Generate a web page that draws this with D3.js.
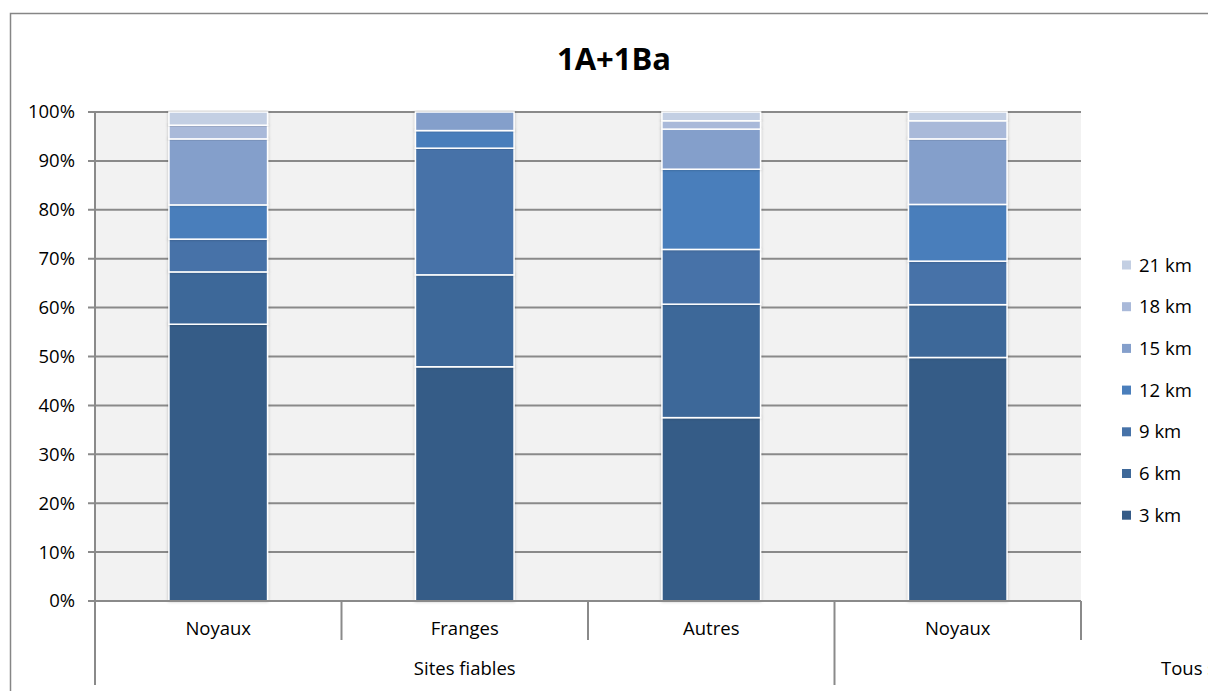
<!DOCTYPE html>
<html><head><meta charset="utf-8">
<script src="https://cdn.jsdelivr.net/npm/d3@7"></script>
<style>
html,body{margin:0;padding:0;background:#fff;overflow:hidden;}
svg{display:block;font-family:"Open Sans", Lato, sans-serif;}
</style></head>
<body>
<svg id="chart" width="1208" height="691"></svg>
<script>
const title = "1A+1Ba";
const categories = ["Noyaux", "Franges", "Autres", "Noyaux"];
const groups = ["Sites fiables", "Tous sites"];
const seriesNames = ["3 km", "6 km", "9 km", "12 km", "15 km", "18 km", "21 km"];
const s3km  = [56.6, 47.9, 37.5, 49.8];
const s6km  = [10.7, 18.8, 23.2, 10.8];
const s9km  = [6.7, 25.9, 11.2, 8.9];
const s12km = [7.0, 3.6, 16.4, 11.6];
const s15km = [13.5, 3.8, 8.2, 13.4];
const s18km = [2.8, 0, 1.7, 3.7];
const s21km = [2.7, 0, 1.8, 1.8];
const colors = ["#355b87", "#3e6899", "#4672a8", "#4a7ebb", "#849fcb", "#a9b9d9", "#c3cfe3"];
const yTicks = [0, 10, 20, 30, 40, 50, 60, 70, 80, 90, 100];

const seriesValues = [s3km, s6km, s9km, s12km, s15km, s18km, s21km];
const table = categories.map((c, i) => {
  const row = {idx: i, cat: c};
  seriesNames.forEach((s, k) => row[s] = seriesValues[k][i]);
  return row;
});

const FS = 18.5;
const svg = d3.select("#chart");
const plot = {left: 95, right: 1081, top: 112, bottom: 601};

const defs = svg.append("defs");
const f = defs.append("filter").attr("id", "sh").attr("x", "-10%").attr("y", "-10%").attr("width", "120%").attr("height", "120%");
f.append("feDropShadow").attr("dx", 0).attr("dy", 0).attr("stdDeviation", 1.5).attr("flood-color", "#000").attr("flood-opacity", 0.25);

// outer border
svg.append("rect").attr("x", 10.5).attr("y", 13.5).attr("width", 1300).attr("height", 800)
  .attr("fill", "#fff").attr("stroke", "#868686").attr("stroke-width", 1.5);

// plot background
svg.append("rect").attr("x", plot.left).attr("y", plot.top)
  .attr("width", plot.right - plot.left).attr("height", plot.bottom - plot.top).attr("fill", "#f2f2f2");

const x = d3.scaleBand().domain(d3.range(categories.length)).range([plot.left, plot.right])
  .paddingInner(0.6).paddingOuter(0.3);
const y = d3.scaleLinear().domain([0, 100]).range([plot.bottom, plot.top]);

// gridlines
svg.append("g").selectAll("line").data(yTicks).join("line")
  .attr("x1", plot.left - 7).attr("x2", plot.right)
  .attr("y1", d => y(d)).attr("y2", d => y(d))
  .attr("stroke", "#8a8a8a").attr("stroke-width", 2);

// y axis labels
const yAxis = d3.axisLeft(y).tickValues(yTicks).tickFormat(d => d + "%").tickSize(0).tickPadding(20);
const ya = svg.append("g").attr("transform", `translate(${plot.left},0)`).call(yAxis);
ya.select(".domain").remove();
ya.selectAll("text").attr("font-size", FS).attr("fill", "#000").attr("font-family", "'Open Sans', sans-serif");

// y axis line
svg.append("line").attr("x1", plot.left).attr("x2", plot.left).attr("y1", plot.top).attr("y2", 685)
  .attr("stroke", "#8a8a8a").attr("stroke-width", 2);

// stacked bars
const stack = d3.stack().keys(seriesNames)(table);
const bars = svg.append("g");
stack.forEach((layer, k) => {
  bars.append("g").attr("fill", colors[k]).selectAll("rect")
    .data(layer.filter(d => d[1] - d[0] > 0)).join("rect")
    .attr("x", d => x(d.data.idx))
    .attr("width", x.bandwidth())
    .attr("y", d => y(d[1]))
    .attr("height", d => y(d[0]) - y(d[1]))
    .attr("stroke", "#fff").attr("stroke-width", 1.5)
    .attr("filter", "url(#sh)");
});

// x axis line
svg.append("line").attr("x1", plot.left - 7).attr("x2", plot.right).attr("y1", plot.bottom).attr("y2", plot.bottom)
  .attr("stroke", "#8a8a8a").attr("stroke-width", 2);

// category dividers
const step = x.step();
const bounds = d3.range(categories.length + 1).map(i => plot.left + i * step);
const longIdx = [0, 3];
svg.append("g").selectAll("line").data(bounds).join("line")
  .attr("x1", d => d).attr("x2", d => d)
  .attr("y1", plot.bottom).attr("y2", (d, i) => longIdx.includes(i) ? 685 : 640)
  .attr("stroke", "#8a8a8a").attr("stroke-width", 2);

// category labels
svg.append("g").selectAll("text").data(categories).join("text")
  .attr("x", (d, i) => x(i) + x.bandwidth() / 2).attr("y", 635)
  .attr("text-anchor", "middle").attr("font-size", FS).attr("fill", "#000").text(d => d);

// group labels
svg.append("text").attr("x", (bounds[0] + bounds[3]) / 2).attr("y", 675)
  .attr("text-anchor", "middle").attr("font-size", FS).attr("fill", "#000").text(groups[0]);
svg.append("text").attr("x", 1161).attr("y", 675)
  .attr("text-anchor", "start").attr("font-size", FS).attr("fill", "#000").text(groups[1]);

// title
svg.append("text").attr("x", 614).attr("y", 70).attr("text-anchor", "middle")
  .attr("font-size", 31).attr("font-weight", "bold").attr("fill", "#000").text(title);

// legend
const legendOrder = seriesNames.map((s, k) => ({s, k})).reverse();
const lg = svg.append("g").selectAll("g").data(legendOrder).join("g")
  .attr("transform", (d, i) => `translate(1122, ${265 + i * 41.7})`);
lg.append("rect").attr("x", 0).attr("y", -4.5).attr("width", 9).attr("height", 9).attr("fill", d => colors[d.k]);
lg.append("text").attr("x", 17).attr("y", 6.5).attr("font-size", FS).attr("fill", "#000").text(d => d.s);
</script>
</body></html>
